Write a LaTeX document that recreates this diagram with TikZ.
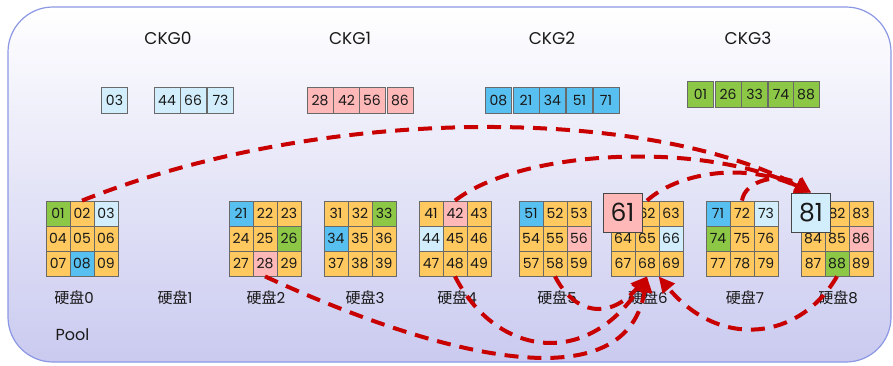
\documentclass[tikz,border=0pt]{standalone}
\usepackage{fontspec}
\setmainfont{Poppins}
\newfontfamily\cjk{Noto Sans CJK SC}
\definecolor{cOrange}{RGB}{255,201,96}
\definecolor{cGreen}{RGB}{140,200,70}
\definecolor{cBlue}{RGB}{88,192,240}
\definecolor{cLight}{RGB}{210,238,252}
\definecolor{cPink}{RGB}{255,184,184}
\definecolor{cellline}{RGB}{105,105,105}
\definecolor{ink}{RGB}{25,25,25}
\definecolor{linkred}{RGB}{200,0,0}
\definecolor{frame}{RGB}{140,152,228}
\definecolor{poolbg}{RGB}{202,202,240}
\usetikzlibrary{arrows.meta}

\begin{document}
\begin{tikzpicture}[x=1pt,y=-1pt,
    cell/.style={draw=cellline,line width=0.8pt,minimum width=24pt,minimum height=25pt,
      inner sep=0pt,text=ink,font=\fontsize{14}{14}\selectfont},
    topcell/.style={cell,minimum width=26pt,minimum height=26pt},
    bigbox/.style={draw=ink!80,line width=1pt,minimum size=39pt,inner sep=0pt,
      text=ink,font=\fontsize{25}{25}\selectfont},
    ckglabel/.style={text=ink,font=\fontsize{17}{17}\selectfont},
    disklabel/.style={text=ink,font=\fontsize{15}{15}\selectfont},
    link/.style={draw=linkred,line width=4pt,dash pattern=on 14pt off 9pt,
      -{Triangle[length=16pt,width=15pt]}}]
  \useasboundingbox (0,0) rectangle (893,365);
  % pool frame
  \draw[frame,line width=1.2pt,top color=white,bottom color=poolbg,rounded corners=45pt]
    (8,7) rectangle (891,362);

  % chunk groups
  \node[ckglabel] (ckg0) at (168,38) {CKG0};
  \node[ckglabel] (ckg1) at (350,38) {CKG1};
  \node[ckglabel] (ckg2) at (552,38) {CKG2};
  \node[ckglabel] (ckg3) at (748,38) {CKG3};
  \foreach \n/\x in {03/114.5,44/167,66/193,73/220.5}
    \node[topcell,fill=cLight] (k\n) at (\x,100) {\n};
  \foreach \n/\x in {28/320,42/346.5,56/372,86/400}
    \node[topcell,fill=cPink] (k\n) at (\x,100) {\n};
  \foreach \n/\x in {08/498.5,21/526,34/552.5,51/579.5,71/606}
    \node[topcell,fill=cBlue] (k\n) at (\x,100) {\n};
  \foreach \n/\x in {01/700.5,26/728,33/754.5,74/781,88/806}
    \node[topcell,fill=cGreen] (k\n) at (\x,94.5) {\n};

  % disks
  \foreach \d/\cx/\cols in {
      0/82/{cGreen,cOrange,cLight,cOrange,cOrange,cOrange,cOrange,cBlue,cOrange},
      2/265/{cBlue,cOrange,cOrange,cOrange,cOrange,cGreen,cOrange,cPink,cOrange},
      3/360/{cOrange,cOrange,cGreen,cBlue,cOrange,cOrange,cOrange,cOrange,cOrange},
      4/455/{cOrange,cPink,cOrange,cLight,cOrange,cOrange,cOrange,cOrange,cOrange},
      5/555/{cBlue,cOrange,cOrange,cOrange,cOrange,cPink,cOrange,cOrange,cOrange},
      6/647/{cOrange,cOrange,cOrange,cOrange,cOrange,cLight,cOrange,cOrange,cOrange},
      7/742/{cBlue,cOrange,cLight,cGreen,cOrange,cOrange,cOrange,cOrange,cOrange},
      8/837/{cOrange,cOrange,cOrange,cOrange,cOrange,cPink,cOrange,cGreen,cOrange}}{
    \foreach \col [count=\k from 1] in \cols {
      \pgfmathtruncatemacro\r{(\k-1)/3}
      \pgfmathtruncatemacro\c{mod(\k-1,3)}
      \node[cell,fill=\col] (c\d\k) at ({\cx+(\c-1)*24},{213.5+\r*25}) {\d\k};
    }
  }
  \foreach \d/\cx in {0/74,1/175,2/266,3/365,4/457,5/557,6/648,7/745,8/838}
    \node[disklabel] (h\d) at (\cx,298) {{\cjk 硬盘}\d};
  \node[disklabel,anchor=west,font=\fontsize{16}{16}\selectfont] (pool) at (52,335) {Pool};

  % spare chunks
  \node[bigbox,fill=cPink] (b61) at (622.5,212.5) {61};
  \node[bigbox,fill=cLight] (b81) at (811,212.5) {81};

  % reconstruction links
  \draw[link] (c02.north) .. controls (330,102) and (650,108) .. (b81.north);
  \draw[link] (c42.north) .. controls (520,150) and (700,140) .. (b81.north);
  \draw[link] (c62.north) .. controls (675,175) and (740,160) .. (b81.north);
  \draw[link] (c72.north) .. controls (745,180) and (780,172) .. (b81.north);
  \draw[link] (c28.south) .. controls (420,348) and (625,410) .. (c68.south);
  \draw[link] (c48.south) .. controls (495,355) and (585,370) .. (c68.south);
  \draw[link] (c58.south) .. controls (575,315) and (610,320) .. (c68.south);
  \draw[link] (c88.south) .. controls (800,340) and (720,350) .. (c69.south west);
\end{tikzpicture}
\end{document}
